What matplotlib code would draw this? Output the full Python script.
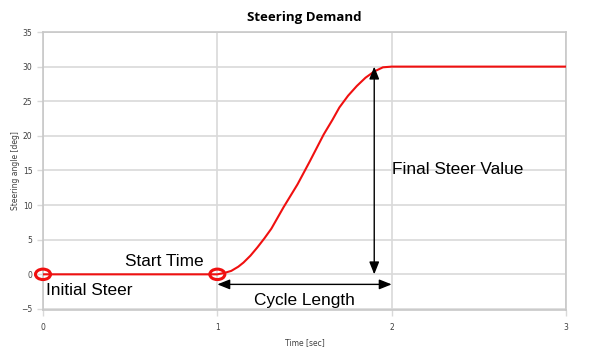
import numpy as np
import matplotlib.pyplot as plt
from matplotlib.patches import Ellipse

# steering demand curve
time_s = [0.0, 1.0, 1.04, 1.08, 1.12, 1.15, 1.19, 1.23, 1.27, 1.31, 1.38, 1.46, 1.53,
          1.61, 1.66, 1.70, 1.75, 1.80, 1.85, 1.90, 1.95, 2.0, 3.0]
angle_deg = [0.0, 0.0, 0.2, 0.5, 1.1, 1.7, 2.7, 3.9, 5.2, 6.6, 9.7, 13.0, 16.3,
             20.2, 22.3, 24.1, 25.8, 27.2, 28.4, 29.3, 29.9, 30.0, 30.0]

x_ticks = [0, 1, 2, 3]
y_ticks = [-5, 0, 5, 10, 15, 20, 25, 30, 35]

start_time = 1.0
cycle_end = 2.0
final_value = 30.0
final_arrow_x = 1.9
cycle_arrow_y = -1.45

grid_col = "#d9d9d9"
tick_col = "#404040"

fig = plt.figure(figsize=(5.99, 3.51), dpi=100)
ax = fig.add_axes([43 / 599, 41 / 351, 523 / 599, 278 / 351])

ax.plot(time_s, angle_deg, color="#f01010", lw=1.5, zorder=3, solid_joinstyle="round")

ax.set_xlim(0, 3)
ax.set_ylim(-5.15, 34.85)
ax.set_xticks(x_ticks)
ax.set_yticks(y_ticks)
ax.grid(True, color=grid_col, lw=1.2)
ax.set_axisbelow(True)
for s in ax.spines.values():
    s.set_color("#c8c8c8")
    s.set_linewidth(1.2)
ax.tick_params(colors=grid_col, labelcolor=tick_col, labelsize=5.5, length=4, width=1)
ax.tick_params(axis="x", pad=5)

ax.set_title("Steering Demand", fontsize=9.5, fontweight="bold", family="Open Sans", pad=8)
ax.set_xlabel("Time [sec]", fontsize=5.5, color=tick_col, labelpad=5)
ax.set_ylabel("Steering angle [deg]", fontsize=5.5, color=tick_col, labelpad=1)

# marker ellipses at initial steer and start time
for cx in [0.0, start_time]:
    e = Ellipse((cx, 0), width=15 / 174.3, height=10.5 / 6.96, fill=False,
                edgecolor="#f01010", lw=2.2, zorder=4, clip_on=False)
    ax.add_patch(e)

arrow = dict(arrowstyle="<|-|>,head_length=0.75,head_width=0.3", color="black", lw=1.0,
             mutation_scale=10, shrinkA=0, shrinkB=0)
ax.annotate("", xy=(final_arrow_x, final_value), xytext=(final_arrow_x, 0), arrowprops=arrow)
ax.annotate("", xy=(cycle_end, cycle_arrow_y), xytext=(start_time, cycle_arrow_y), arrowprops=arrow)

txt = dict(fontsize=12.4, family="Liberation Sans", color="black")
ax.text(0.02, -2.4, "Initial Steer", ha="left", va="center", **txt)
ax.text(0.92, 1.8, "Start Time", ha="right", va="center", **txt)
ax.text(1.5, -3.85, "Cycle Length", ha="center", va="center", **txt)
ax.text(2.0, 15.2, "Final Steer Value", ha="left", va="center", **txt)

fig.savefig("out.png", dpi=100)
